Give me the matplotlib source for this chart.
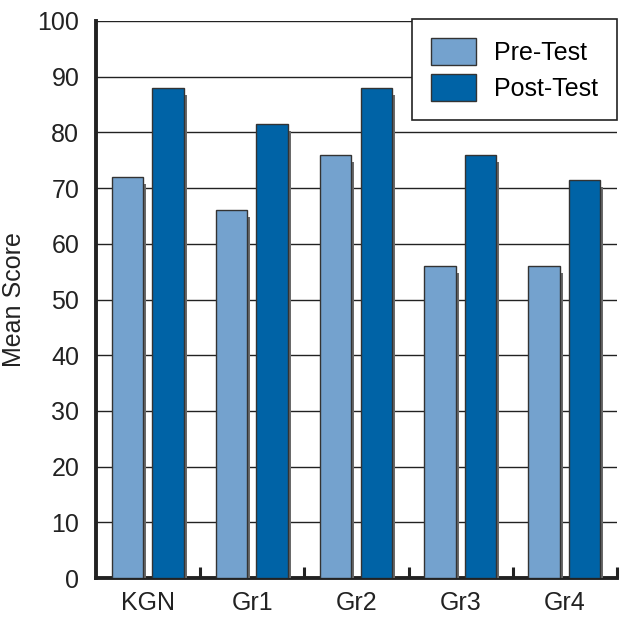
import numpy as np
import matplotlib
matplotlib.use("Agg")
import matplotlib.pyplot as plt
import matplotlib.patheffects as pe

groups = ["KGN", "Gr1", "Gr2", "Gr3", "Gr4"]
pre_test = [72, 66, 76, 56, 56]
post_test = [88, 81.5, 88, 76, 71.5]

plt.rcParams["font.family"] = ["Liberation Sans", "DejaVu Sans"]

fig = plt.figure(figsize=(6.21, 6.21), dpi=100)
ax = fig.add_axes([0.1546, 0.0692, 0.839, 0.8970])

x = np.arange(len(groups))
shadow = [pe.SimplePatchShadow(offset=(2.2, -5), shadow_rgbFace="#6a6a6a", alpha=1.0), pe.Normal()]
b1 = ax.bar(x - 0.2, pre_test, width=0.3, color="#74a2ce", edgecolor="#333333", linewidth=1.0,
            label="Pre-Test", zorder=3)
b2 = ax.bar(x + 0.19, post_test, width=0.3, color="#0063a6", edgecolor="#333333", linewidth=1.0,
            label="Post-Test", zorder=3)
for bar in list(b1) + list(b2):
    bar.set_path_effects(shadow)

ax.set_xlim(-0.5, 4.5)
ax.set_ylim(0, 100)
ax.set_yticks(np.arange(0, 101, 10))
ax.yaxis.grid(True, color="#222222", linewidth=1.0, zorder=0)
ax.set_axisbelow(True)
ax.tick_params(axis="y", length=0, labelsize=18, pad=12, colors="#222222")

ax.set_xticks(x)
ax.set_xticklabels(groups)
ax.tick_params(axis="x", length=0, labelsize=18, pad=9, colors="#222222")
ax.set_xticks(np.arange(0.5, 5, 1), minor=True)
ax.tick_params(axis="x", which="minor", direction="in", length=8, width=2.2, color="#222222")

for s in ["top", "right"]:
    ax.spines[s].set_visible(False)
ax.spines["left"].set_linewidth(2.8)
ax.spines["bottom"].set_linewidth(2.8)
ax.spines["left"].set_color("#222222")
ax.spines["bottom"].set_color("#222222")

ax.set_ylabel("Mean Score", fontsize=18, color="#222222", labelpad=8)

leg = ax.legend(loc="upper right", fontsize=18, frameon=True, fancybox=False,
                edgecolor="#222222", framealpha=1, handlelength=1.8, handleheight=1.3,
                borderpad=0.75, labelspacing=0.35, handletextpad=0.75, borderaxespad=0.0,
                bbox_to_anchor=(1.0, 1.003))
leg.get_frame().set_linewidth(1.2)
for h in leg.legend_handles:
    h.set_path_effects([])
    h.set_edgecolor("#333333")

fig.savefig("out.png", dpi=100)
